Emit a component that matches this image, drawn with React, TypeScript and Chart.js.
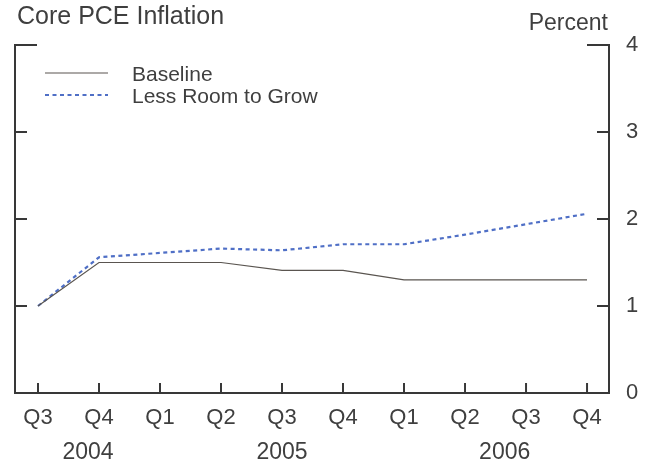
import React, { useEffect, useRef } from "react";
import { Chart, registerables } from "chart.js";

Chart.register(...registerables);

const quarters = ["Q3", "Q4", "Q1", "Q2", "Q3", "Q4", "Q1", "Q2", "Q3", "Q4"];
const years = ["2004", "2005", "2006"];
const yearCenters = [0.82, 4, 7.65];
const baseline = [1.0, 1.5, 1.5, 1.5, 1.41, 1.41, 1.3, 1.3, 1.3, 1.3];
const lessRoom = [1.0, 1.56, 1.61, 1.66, 1.64, 1.71, 1.71, 1.82, 1.94, 2.06];
const yTicks = [0, 1, 2, 3, 4];
const seriesNames = ["Baseline", "Less Room to Grow"];

const TEXT = "#3f3f3f";
const AXIS = "#383838";
const FONT = "'Liberation Sans', Arial, sans-serif";

const framePlugin = {
  id: "frame",
  afterDraw(chart: any) {
    const ctx = chart.ctx;
    const { left, right, top, bottom } = chart.chartArea;
    const xs = chart.scales.x;
    const ys = chart.scales.y;
    ctx.save();
    ctx.strokeStyle = AXIS;
    ctx.lineWidth = 2;
    ctx.beginPath();
    ctx.moveTo(left, top);
    ctx.lineTo(left, bottom);
    ctx.lineTo(right, bottom);
    ctx.lineTo(right, top);
    ctx.stroke();
    yTicks.forEach((v) => {
      if (v === 0) return;
      const y = ys.getPixelForValue(v);
      const len = v === 4 ? 22 : 12;
      ctx.beginPath();
      ctx.moveTo(left - 1, y);
      ctx.lineTo(left + len, y);
      ctx.moveTo(right + 1, y);
      ctx.lineTo(right - len, y);
      ctx.stroke();
    });
    quarters.forEach((_, i) => {
      const x = xs.getPixelForValue(i);
      ctx.beginPath();
      ctx.moveTo(x, bottom);
      ctx.lineTo(x, bottom - 10);
      ctx.stroke();
    });
    ctx.fillStyle = TEXT;
    ctx.font = `23px ${FONT}`;
    ctx.textAlign = "center";
    ctx.textBaseline = "middle";
    years.forEach((yr, i) => {
      ctx.fillText(yr, xs.getPixelForValue(yearCenters[i]), 453);
    });
    ctx.font = `25px ${FONT}`;
    ctx.textAlign = "left";
    ctx.textBaseline = "alphabetic";
    ctx.fillText("Core PCE Inflation", 17, 24);
    ctx.font = `23px ${FONT}`;
    ctx.textAlign = "right";
    ctx.fillText("Percent", 608, 30);
    ctx.lineWidth = 1.2;
    ctx.strokeStyle = "#5a5550";
    ctx.beginPath();
    ctx.moveTo(45, 73);
    ctx.lineTo(108, 73);
    ctx.stroke();
    ctx.strokeStyle = "#4f6fc6";
    ctx.lineWidth = 2.2;
    ctx.setLineDash([4, 3.5]);
    ctx.beginPath();
    ctx.moveTo(45, 95);
    ctx.lineTo(108, 95);
    ctx.stroke();
    ctx.setLineDash([]);
    ctx.font = `21px ${FONT}`;
    ctx.textAlign = "left";
    ctx.textBaseline = "middle";
    ctx.fillText(seriesNames[0], 132, 75);
    ctx.fillText(seriesNames[1], 132, 97);
    ctx.restore();
  },
};

export default function App() {
  const ref = useRef<HTMLCanvasElement>(null);
  useEffect(() => {
    if (!ref.current) return;
    const chart = new Chart(ref.current, {
      type: "line",
      data: {
        datasets: [
          {
            label: seriesNames[0],
            data: baseline.map((v, i) => ({ x: i, y: v })),
            borderColor: "#5a5550",
            borderWidth: 1.2,
            pointRadius: 0,
            tension: 0,
          },
          {
            label: seriesNames[1],
            data: lessRoom.map((v, i) => ({ x: i, y: v })),
            borderColor: "#4f6fc6",
            borderWidth: 2.2,
            borderDash: [4, 3.5],
            pointRadius: 0,
            tension: 0,
          },
        ],
      },
      options: {
        animation: false,
        responsive: true,
        maintainAspectRatio: false,
        layout: { padding: { left: 15, top: 45, right: 0, bottom: 0 } },
        plugins: {
          legend: { display: false },
          tooltip: { enabled: false },
          title: { display: false },
        },
        scales: {
          x: {
            type: "linear",
            min: -0.377,
            max: 9.36,
            grid: { display: false, drawTicks: false },
            border: { display: false },
            afterBuildTicks: (s: any) => {
              s.ticks = quarters.map((_, i) => ({ value: i }));
            },
            afterFit: (s: any) => {
              s.height = 71;
            },
            ticks: {
              autoSkip: false,
              maxRotation: 0,
              padding: 12,
              color: TEXT,
              font: { family: FONT, size: 22 },
              callback: (v: any) => quarters[Math.round(Number(v))] ?? "",
            },
          },
          y: {
            position: "right",
            min: 0,
            max: 4,
            grid: { display: false, drawTicks: false },
            border: { display: false },
            afterBuildTicks: (s: any) => {
              s.ticks = yTicks.map((v) => ({ value: v }));
            },
            afterFit: (s: any) => {
              s.width = 43;
            },
            ticks: {
              padding: 17,
              color: TEXT,
              font: { family: FONT, size: 22 },
            },
          },
        },
      },
      plugins: [framePlugin],
    });
    return () => chart.destroy();
  }, []);
  return (
    <div
      style={{
        position: "fixed",
        left: 0,
        top: 0,
        width: 652,
        height: 464,
        background: "#fff",
      }}
    >
      <canvas ref={ref} />
    </div>
  );
}
